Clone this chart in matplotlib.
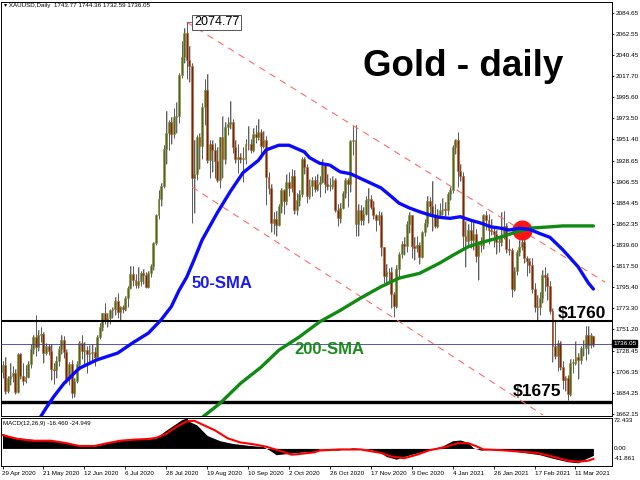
import matplotlib
matplotlib.use("Agg")
import matplotlib.pyplot as plt
import matplotlib.transforms as mtransforms
import numpy as np

plt.rcParams["font.family"] = ["Liberation Sans", "DejaVu Sans"]

# daily XAUUSD bars, 29 Apr 2020 .. 22 Mar 2021
opens = [
    1706, 1713, 1686, 1700, 1702, 1705, 1685, 1725, 1702, 1697, 1701, 1715, 1730, 1743, 1732, 1745,
    1746, 1726, 1734, 1728, 1709, 1708, 1718, 1730, 1740, 1727, 1699, 1714, 1684, 1697, 1714, 1737,
    1728, 1729, 1725, 1726, 1727, 1722, 1743, 1754, 1768, 1761, 1763, 1771, 1772, 1781, 1769, 1775,
    1772, 1784, 1795, 1809, 1803, 1798, 1802, 1810, 1808, 1796, 1810, 1818, 1842, 1871, 1888, 1902,
    1941, 1958, 1970, 1957, 1975, 1976, 2019, 2038, 2063, 2035, 2028, 1911, 1915, 1954, 1944, 1985,
    2003, 1929, 1946, 1940, 1928, 1908, 1954, 1930, 1964, 1967, 1970, 1943, 1930, 1933, 1931, 1931,
    1946, 1946, 1940, 1957, 1954, 1959, 1944, 1950, 1912, 1900, 1863, 1867, 1861, 1881, 1898, 1886,
    1906, 1900, 1913, 1877, 1887, 1894, 1930, 1922, 1891, 1902, 1908, 1899, 1904, 1906, 1924, 1904,
    1902, 1902, 1908, 1877, 1868, 1879, 1895, 1908, 1904, 1949, 1951, 1862, 1877, 1866, 1873, 1887,
    1888, 1880, 1871, 1866, 1871, 1838, 1807, 1811, 1811, 1788, 1776, 1815, 1830, 1841, 1839, 1862,
    1871, 1839, 1837, 1840, 1827, 1854, 1863, 1886, 1881, 1871, 1860, 1871, 1877, 1878, 1877, 1894,
    1898, 1943, 1950, 1918, 1913, 1849, 1844, 1856, 1845, 1851, 1828, 1840, 1840, 1871, 1866, 1856,
    1855, 1851, 1843, 1843, 1848, 1860, 1836, 1835, 1794, 1813, 1832, 1838, 1843, 1826, 1823, 1819,
    1794, 1775, 1775, 1784, 1808, 1806, 1797, 1770, 1733, 1723, 1737, 1711, 1698, 1700, 1683, 1716,
    1716, 1722, 1719, 1731, 1731, 1745, 1735, 1743.77,
]
highs = [
    1718, 1722, 1702, 1716, 1712, 1709, 1726, 1726, 1716, 1713, 1718, 1736, 1745, 1766, 1750, 1753,
    1748, 1737, 1736, 1736, 1716, 1723, 1733, 1745, 1744, 1730, 1717, 1719, 1700, 1718, 1739, 1745,
    1738, 1733, 1735, 1736, 1732, 1745, 1758, 1768, 1779, 1768, 1772, 1775, 1785, 1789, 1776, 1777,
    1786, 1797, 1818, 1818, 1809, 1817, 1813, 1815, 1811, 1812, 1820, 1843, 1873, 1898, 1905, 1945,
    1981, 1972, 1975, 1984, 1991, 2021, 2055, 2069, 2074.77, 2050, 2032, 1950, 1956, 1958, 1989, 2015,
    2020, 1951, 1951, 1947, 1943, 1954, 1976, 1970, 1975, 1992, 1973, 1950, 1946, 1937, 1943, 1952,
    1965, 1952, 1963, 1966, 1973, 1962, 1960, 1955, 1917, 1904, 1875, 1876, 1883, 1900, 1899, 1915,
    1917, 1920, 1919, 1895, 1898, 1933, 1933, 1925, 1909, 1912, 1913, 1915, 1913, 1931, 1926, 1915,
    1911, 1913, 1911, 1883, 1884, 1897, 1910, 1911, 1951, 1965, 1966, 1883, 1882, 1880, 1892, 1900,
    1893, 1886, 1873, 1876, 1875, 1838, 1820, 1816, 1817, 1790, 1819, 1832, 1844, 1848, 1865, 1875,
    1872, 1848, 1849, 1843, 1855, 1867, 1891, 1890, 1907, 1883, 1878, 1884, 1889, 1885, 1896, 1901,
    1945, 1952, 1959, 1925, 1917, 1865, 1862, 1865, 1864, 1857, 1843, 1848, 1873, 1876, 1873, 1867,
    1860, 1856, 1848, 1875, 1876, 1863, 1846, 1837, 1817, 1835, 1845, 1855, 1848, 1828, 1826, 1826,
    1800, 1787, 1790, 1814, 1817, 1810, 1802, 1774, 1760, 1740, 1739, 1718, 1702, 1703, 1720, 1720,
    1739, 1726, 1733, 1740, 1755, 1755, 1747, 1744.36,
]
lows = [
    1700, 1683, 1684, 1692, 1696, 1683, 1684, 1699, 1692, 1694, 1700, 1710, 1725, 1723, 1728, 1738,
    1716, 1724, 1724, 1698, 1693, 1700, 1712, 1725, 1721, 1694, 1692, 1679, 1680, 1695, 1708, 1720,
    1715, 1705, 1715, 1718, 1712, 1719, 1741, 1749, 1757, 1753, 1757, 1763, 1766, 1763, 1760, 1768,
    1770, 1775, 1794, 1797, 1795, 1795, 1797, 1799, 1795, 1795, 1806, 1814, 1840, 1867, 1881, 1900,
    1925, 1940, 1946, 1953, 1958, 1968, 2016, 2032, 2015, 2012, 1863, 1874, 1908, 1920, 1931, 1966,
    1926, 1911, 1917, 1911, 1906, 1900, 1911, 1925, 1956, 1962, 1937, 1926, 1916, 1926, 1906, 1925,
    1940, 1937, 1938, 1947, 1950, 1930, 1942, 1882, 1894, 1854, 1852, 1849, 1860, 1874, 1873, 1882,
    1892, 1896, 1873, 1872, 1881, 1890, 1915, 1884, 1888, 1891, 1896, 1897, 1890, 1905, 1895, 1898,
    1897, 1899, 1875, 1860, 1863, 1878, 1889, 1880, 1896, 1935, 1849, 1849, 1861, 1861, 1871, 1863,
    1878, 1867, 1855, 1861, 1828, 1800, 1799, 1802, 1774, 1764, 1773, 1806, 1826, 1829, 1833, 1853,
    1826, 1824, 1832, 1820, 1826, 1849, 1859, 1872, 1855, 1858, 1858, 1868, 1871, 1870, 1872, 1887,
    1895, 1936, 1901, 1907, 1835, 1817, 1840, 1837, 1835, 1822, 1803, 1832, 1836, 1856, 1841, 1850,
    1838, 1830, 1832, 1839, 1846, 1831, 1829, 1785, 1791, 1808, 1828, 1835, 1821, 1807, 1810, 1789,
    1769, 1760, 1766, 1779, 1791, 1782, 1767, 1717, 1720, 1707, 1708, 1688, 1686, 1677, 1681, 1705,
    1713, 1699, 1714, 1723, 1719, 1725, 1731, 1732.59,
]
closes = [
    1713, 1686, 1700, 1702, 1705, 1685, 1725, 1702, 1697, 1701, 1715, 1730, 1743, 1732, 1745, 1746,
    1726, 1734, 1728, 1709, 1708, 1718, 1730, 1740, 1727, 1699, 1714, 1684, 1697, 1714, 1737, 1728,
    1729, 1725, 1726, 1727, 1722, 1743, 1754, 1768, 1761, 1763, 1771, 1772, 1781, 1769, 1775, 1772,
    1784, 1795, 1809, 1803, 1798, 1802, 1810, 1808, 1796, 1810, 1818, 1842, 1871, 1888, 1902, 1941,
    1958, 1970, 1957, 1975, 1976, 2019, 2038, 2063, 2035, 2028, 1911, 1915, 1954, 1944, 1985, 2003,
    1929, 1946, 1940, 1928, 1908, 1954, 1930, 1964, 1967, 1970, 1943, 1930, 1933, 1931, 1931, 1946,
    1946, 1940, 1957, 1954, 1959, 1944, 1950, 1912, 1900, 1863, 1867, 1861, 1881, 1898, 1886, 1906,
    1900, 1913, 1877, 1887, 1894, 1930, 1922, 1891, 1902, 1908, 1899, 1904, 1906, 1924, 1904, 1902,
    1902, 1908, 1877, 1868, 1879, 1895, 1908, 1904, 1949, 1951, 1862, 1877, 1866, 1873, 1887, 1888,
    1880, 1871, 1866, 1871, 1838, 1807, 1811, 1811, 1788, 1776, 1815, 1830, 1841, 1839, 1862, 1871,
    1839, 1837, 1840, 1827, 1854, 1863, 1886, 1881, 1871, 1860, 1871, 1877, 1878, 1877, 1894, 1898,
    1943, 1950, 1918, 1913, 1849, 1844, 1856, 1845, 1851, 1828, 1840, 1840, 1871, 1866, 1856, 1855,
    1851, 1843, 1843, 1848, 1860, 1836, 1835, 1794, 1813, 1832, 1838, 1843, 1826, 1823, 1819, 1794,
    1775, 1775, 1784, 1808, 1806, 1797, 1770, 1733, 1723, 1737, 1711, 1698, 1700, 1683, 1716, 1716,
    1722, 1719, 1731, 1731, 1745, 1735, 1745, 1736.05,
]

# x-axis labels, one every 16 bars
date_labels = ["29 Apr 2020", "21 May 2020", "12 Jun 2020", "6 Jul 2020", "28 Jul 2020",
               "19 Aug 2020", "10 Sep 2020", "2 Oct 2020", "26 Oct 2020", "17 Nov 2020",
               "9 Dec 2020", "4 Jan 2021", "26 Jan 2021", "17 Feb 2021", "11 Mar 2021"]

# moving averages (bar index, price)
sma50_idx = [14, 17, 20, 24, 27, 30, 37, 45, 51, 57, 62, 66, 69, 72, 75, 78, 84, 89, 94, 100,
             103, 108, 112, 118, 120, 124, 128, 132, 136, 140, 144, 148, 152, 155, 159, 163, 167,
             171, 175, 179, 183, 187, 191, 195, 198, 202, 206, 210, 214, 219, 225, 229, 231]
sma50_val = [1655, 1668, 1680, 1694, 1702, 1710, 1719, 1726, 1737, 1747, 1761, 1775, 1792, 1806,
             1825, 1845, 1874, 1896, 1916, 1929, 1940, 1945, 1945, 1938, 1932, 1926, 1924, 1917,
             1915, 1910, 1905, 1900, 1891, 1884, 1879, 1875, 1871.5, 1869, 1868, 1869.7, 1866,
             1863, 1859, 1857.5, 1855.7, 1857.5, 1856.4, 1852, 1848, 1835, 1817, 1800, 1793.5]
sma200_idx = [77, 85, 93, 101, 108, 116, 124, 132, 140, 148, 155, 163, 171, 176, 182, 187, 192,
              201, 207, 214, 219, 231]
sma200_val = [1656, 1673, 1694, 1711, 1729, 1743, 1759, 1771, 1784, 1796, 1805, 1810, 1821, 1829,
              1838, 1842.5, 1846, 1853.7, 1857.8, 1859, 1860, 1860]

# MACD(12,26,9): main (histogram) and signal
macd_idx = [0, 4, 10, 15, 20, 25, 30, 36, 41, 46, 51, 57, 60, 63, 66, 70, 72, 73, 76, 80, 85,
            90, 96, 102, 105, 107, 111, 116, 122, 124, 131, 137, 144, 148, 150, 154, 157, 162,
            167, 172, 176, 179, 182, 184, 187, 190, 195, 200, 205, 210, 215, 221, 225, 227, 230, 231]
macd_val = [35, 26.7, 22.5, 20, 18.3, 14.2, 7.5, 5.8, 12.5, 18.3, 22.5, 22.5, 24.2, 39.2, 51.7,
            68.3, 72.4, 64.2, 55.8, 30.8, 18.3, 11.7, 7.5, 4.2, -6.7, -15, -12.5, -9.2, -6.7, -1,
            -4.2, 1.7, -2.5, -10.8, -19.2, -25.8, -19.2, -10.8, -2.5, 5.8, 18.3, 20, 14.2, 1.7,
            -4.2, -2.5, -2.5, -6.7, -10.8, -15, -23.3, -31.7, -34.2, -27.5, -19.2, -16.46]
signal_idx = [0, 6, 12, 19, 25, 30, 36, 41, 46, 51, 57, 60, 64, 68, 72, 75, 77, 83, 88, 93, 98,
              103, 109, 113, 116, 122, 124, 132, 140, 148, 152, 157, 162, 167, 172, 178, 182,
              185, 188, 195, 202, 209, 215, 221, 225, 229, 231]
signal_val = [31.7, 22.5, 18.3, 18.3, 12.5, 5.8, 5.8, 12.5, 18.3, 20.8, 22.5, 25, 35, 51.7, 64.2,
              65.8, 60, 43.3, 24.2, 14.2, 10, 4.2, -6.7, -15, -13.3, -9.2, -5, -2.5, -2.5, -10.8,
              -19.2, -23.3, -15, -4.2, 1.7, 12.5, 12.5, 5.8, -2.5, -4.2, -7.5, -10.8, -19.2, -29.2,
              -31.7, -29.2, -24.95]

price_ticks = [2084.65, 2062.55, 2040.45, 2017.70, 1995.60, 1973.50, 1951.40, 1928.65, 1906.55,
               1884.45, 1862.35, 1839.60, 1817.50, 1795.40, 1773.30, 1751.20, 1728.45, 1706.35,
               1684.25, 1662.15]
resistance = 1760
support = 1675
last_price = 1736.05
peak_price = 2074.77
peak_idx = 72
# descending channel (bar index, price)
upper_idx = [72, 235.5]
upper_val = [2074.77, 1800.9]
lower_idx = [74.1, 211.3]
lower_val = [1901.0, 1660.8]
cross_idx = [203]
cross_val = [1855.5]
macd_max, macd_min = 72.433, -41.861

W, H = 640, 480


def fpx(x, y):
    return x / W, 1 - y / H


fig = plt.figure(figsize=(6.4, 4.8), dpi=100)
ax = fig.add_axes([1 / W, (H - 416) / H, 611 / W, 414 / H])
axm = fig.add_axes([1 / W, (H - 466) / H, 611 / W, 48 / H])

n = len(closes)
x = np.arange(n)
o = np.array(opens)
c = np.array(closes)
up = c >= o
body = np.where(np.abs(c - o) < 0.8, 0.8, c - o)

# light grey halo behind each candle, as on the screenshot
ax.bar(x + 0.3, np.array(highs) - np.array(lows), bottom=lows, width=0.55,
       color="#c9c9c9", lw=0, zorder=1)
ax.vlines(x, lows, highs, color="#4a4a4a", lw=0.6, zorder=2)
ax.bar(x[up], body[up], bottom=o[up], width=0.75, color="#56661c",
       edgecolor="#7f8f3c", lw=0.4, zorder=3)
ax.bar(x[~up], body[~up], bottom=o[~up], width=0.75, color="#6a2c10",
       edgecolor="#c45c28", lw=0.4, zorder=3)

ax.axhline(resistance, color="black", lw=1.5, zorder=4)
ax.axhline(support, color="black", lw=2.4, zorder=4)
ax.axhline(last_price, color="#3b3b9a", lw=0.6, zorder=4)

ax.plot(upper_idx, upper_val, color="#ff6a6a", lw=0.8, dashes=(6, 5), zorder=4)
ax.plot(lower_idx, lower_val, color="#ff6a6a", lw=0.8, dashes=(6, 5), zorder=4)

ax.scatter(cross_idx, cross_val, s=210, color="#ff1414", zorder=5, linewidths=0)
ax.plot(sma200_idx, sma200_val, color="#118a11", lw=2.4, zorder=6, solid_capstyle="round")
ax.plot(sma50_idx, sma50_val, color="#0a0aff", lw=2.4, zorder=6, solid_capstyle="round")

ax.plot([peak_idx, peak_idx + 2.5], [peak_price, peak_price], color="#8a5050", lw=0.6, zorder=6)
ax.text(peak_idx + 2.8, peak_price, "2074.77", fontsize=9, va="center", ha="left", zorder=7,
        bbox=dict(boxstyle="square,pad=0.12", fc="white", ec="#555555", lw=0.7))

ax.set_xlim((1 - 2.5) / 2.558, (612 - 2.5) / 2.558)
ax.set_ylim(2084.65 - (416 - 12.7) * 1.0536, 2084.65 + (12.7 - 2) * 1.0536)
ax.set_xticks([])
ax.yaxis.tick_right()
ax.set_yticks(price_ticks)
ax.set_yticklabels([f"{p:.2f}" for p in price_ticks])
ax.tick_params(axis="y", labelsize=4.6, length=1.5, pad=1, width=0.6)

trans = mtransforms.blended_transform_factory(ax.transAxes, ax.transData)
ax.text(1.002, last_price, f"{last_price:.2f}", transform=trans, ha="left", va="center",
        color="white", fontsize=4.6, zorder=8, clip_on=False,
        bbox=dict(boxstyle="square,pad=0.15", fc="black", ec="black"))

# MACD panel
axm.fill_between(macd_idx, 0, macd_val, color="black", lw=0, zorder=2)
axm.plot(signal_idx, signal_val, color="#ff0000", lw=1.5, zorder=3)
axm.set_xlim(ax.get_xlim())
axm.set_ylim(macd_min, macd_max)
axm.set_yticks([])
ticks = np.arange(len(date_labels)) * 16
axm.set_xticks(ticks)
axm.set_xticklabels(date_labels, ha="left")
axm.tick_params(axis="x", labelsize=4.5, length=2, pad=1.5, width=0.6)
axm.text(1.003, 1.0, f"{macd_max:.3f}", transform=axm.transAxes, fontsize=4.6, ha="left", va="top")
axm.text(1.003, -macd_min / (macd_max - macd_min), "0.00", transform=axm.transAxes,
         fontsize=4.6, ha="left", va="center", zorder=5,
         bbox=dict(boxstyle="square,pad=0.05", fc="none", ec="none"))
axm.text(1.003, 0.15, f"{macd_min:.3f}", transform=axm.transAxes, fontsize=4.6, ha="left", va="center")
axm.text(0.004, 0.93, "MACD(12,26,9) -16.460 -24.949", transform=axm.transAxes,
         fontsize=4.4, ha="left", va="top")

for a in (ax, axm):
    for s in a.spines.values():
        s.set_linewidth(0.7)

# annotations
fig.text(*fpx(4, 6), "\u25be XAUUSD,Daily  1743.77 1744.36 1732.59 1736.05", fontsize=4.5,
         ha="left", va="center")
fig.text(*fpx(463, 66), "Gold - daily", fontsize=26.5, fontweight="bold", ha="center", va="center")
fig.text(*fpx(222, 283), "50-SMA", fontsize=12, fontweight="bold", color="#1a1aee",
         ha="center", va="center")
fig.text(*fpx(329, 350), "200-SMA", fontsize=12, fontweight="bold", color="#1a8a1a",
         ha="center", va="center")
fig.text(*fpx(582, 313), "$1760", fontsize=12.5, fontweight="bold", ha="center", va="center")
fig.text(*fpx(537, 392), "$1675", fontsize=12.5, fontweight="bold", ha="center", va="center")

fig.savefig("out.png", dpi=100)
